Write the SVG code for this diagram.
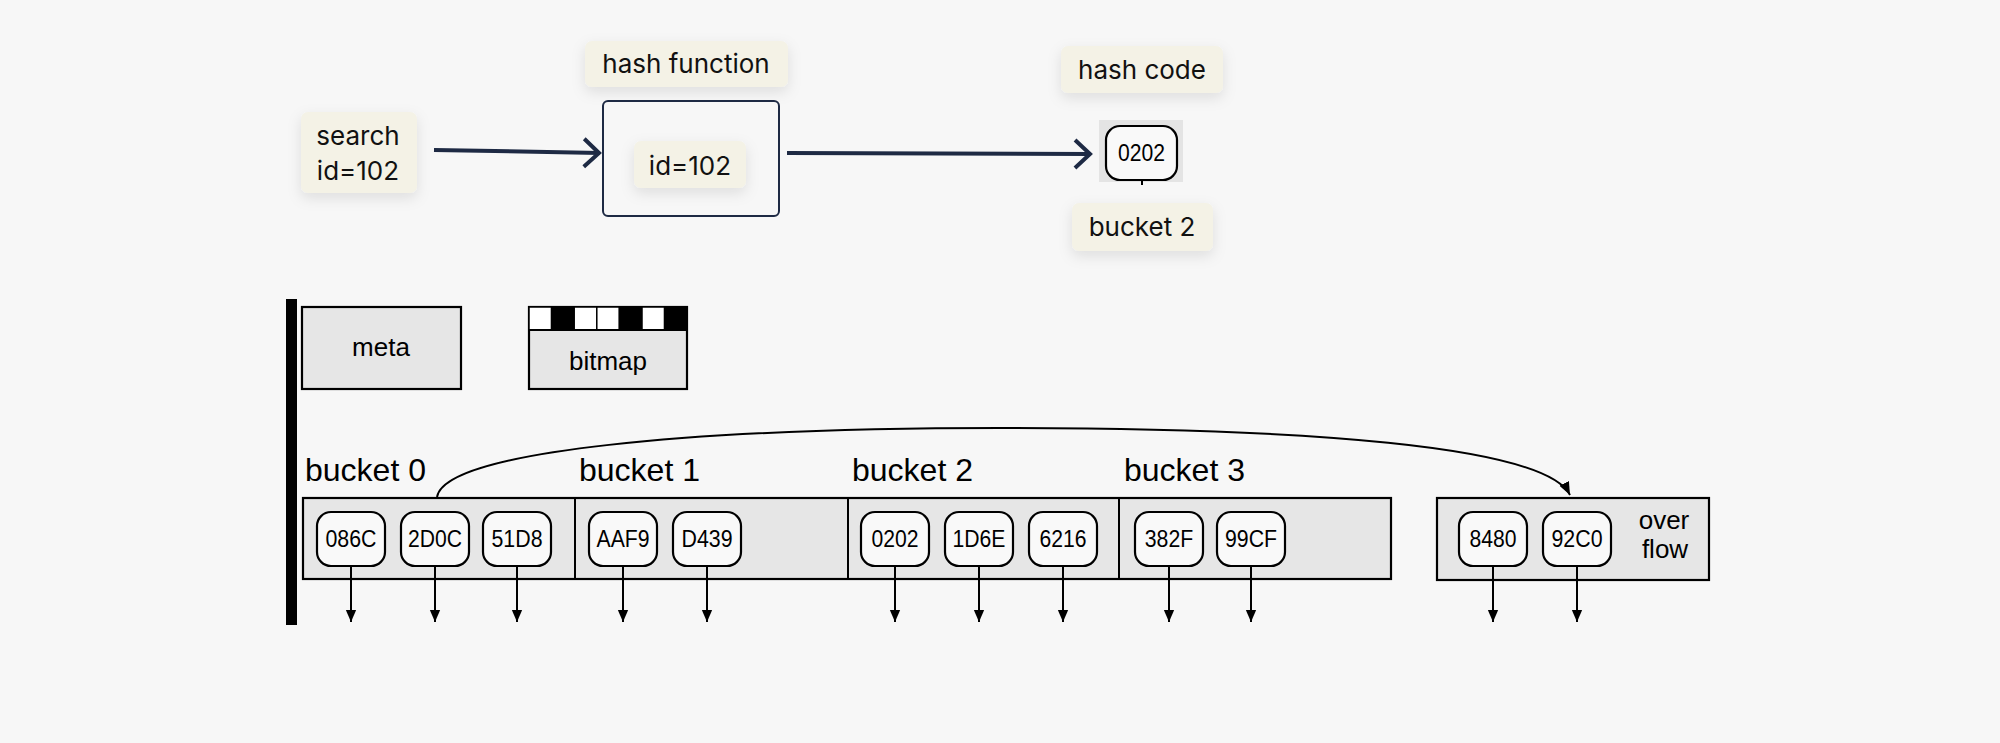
<svg xmlns="http://www.w3.org/2000/svg" width="2000" height="743" viewBox="0 0 2000 743">
<style>
.lbl{fill:#f4f2e6;filter:url(#sh)}
.lt{font-family:Inter,"Noto Sans","Liberation Sans",sans-serif;font-size:26px;fill:#111}
.nav{fill:none;stroke:#1e2a44;stroke-width:4}
.box{fill:#e6e6e6;stroke:#000;stroke-width:2.2}
.nd{fill:#f9f9f9;stroke:#000;stroke-width:2.2}
.nt{font-family:"Liberation Sans",Arial,sans-serif;font-size:23px;fill:#000;text-anchor:middle}
.bt{font-family:"Liberation Sans",Arial,sans-serif;font-size:32px;fill:#000}
.mt{font-family:"Liberation Sans",Arial,sans-serif;font-size:26px;fill:#000;text-anchor:middle}
.ptr{stroke:#000;stroke-width:2;fill:none;marker-end:url(#ah)}
</style>
<defs>
<filter id="sh" x="-30%" y="-30%" width="160%" height="170%">
<feDropShadow dx="0" dy="5" stdDeviation="7" flood-color="#000" flood-opacity="0.10"/>
</filter>
<marker id="ah" markerUnits="userSpaceOnUse" markerWidth="12" markerHeight="14" viewBox="0 0 14 12" refX="14" refY="6" orient="auto">
<path d="M0,0 L14,6 L0,12 z" fill="#000"/>
</marker>
<marker id="ah2" markerUnits="userSpaceOnUse" markerWidth="13" markerHeight="16" viewBox="0 0 16 13" refX="16" refY="6.5" orient="auto">
<path d="M0,0 L16,6.5 L0,13 z" fill="#000"/>
</marker>
<marker id="chev" markerUnits="userSpaceOnUse" markerWidth="24" markerHeight="34" viewBox="0 0 24 34" refX="20" refY="17" orient="auto">
<path d="M4,3 L19,17 L4,31" fill="none" stroke="#1e2a44" stroke-width="4"/>
</marker>
</defs>
<rect width="2000" height="743" fill="#f7f7f7"/>

<g id="search">
<rect class="lbl" x="301" y="112" width="116" height="81" rx="7"/>
<text class="lt" x="358" y="145" text-anchor="middle">search</text>
<text class="lt" x="358" y="180" text-anchor="middle">id=102</text>
</g>

<g id="hash-function">
<rect class="lbl" x="585" y="41" width="203" height="46" rx="7"/>
<text class="lt" x="686" y="73" text-anchor="middle">hash function</text>
<rect x="603" y="101" width="176" height="115" rx="5" fill="#f7f7f7" stroke="#1e2a44" stroke-width="2"/>
<rect class="lbl" x="634" y="141" width="112" height="47" rx="7"/>
<text class="lt" x="690" y="175" text-anchor="middle">id=102</text>
</g>

<g id="hash-code">
<rect class="lbl" x="1061" y="46" width="162" height="47" rx="7"/>
<text class="lt" x="1142" y="79" text-anchor="middle">hash code</text>
<rect x="1099" y="120" width="84" height="62" fill="#e4e4e4"/>
<rect class="nd" x="1106" y="126" width="71" height="54" rx="14"/>
<text class="nt" x="1141.5" y="161" textLength="47" lengthAdjust="spacingAndGlyphs">0202</text>
<line x1="1142" y1="180" x2="1142" y2="185" stroke="#000" stroke-width="2"/>
<rect class="lbl" x="1072" y="203" width="141" height="48" rx="7"/>
<text class="lt" x="1142" y="236" text-anchor="middle">bucket 2</text>
</g>

<g id="meta">
<rect x="286" y="299" width="11" height="326" fill="#000"/>
<rect class="box" x="302" y="307" width="159" height="82"/>
<text class="mt" x="381" y="356">meta</text>
</g>

<g id="bitmap">
<rect class="box" x="529" y="307" width="158" height="82"/>
<g stroke="#000" stroke-width="1.5">
<rect x="529" y="307" width="22.6" height="23" fill="#fff"/>
<rect x="551.6" y="307" width="22.6" height="23" fill="#000"/>
<rect x="574.2" y="307" width="22.6" height="23" fill="#fff"/>
<rect x="596.8" y="307" width="22.6" height="23" fill="#fff"/>
<rect x="619.4" y="307" width="22.6" height="23" fill="#000"/>
<rect x="642" y="307" width="22.6" height="23" fill="#fff"/>
<rect x="664.6" y="307" width="22.4" height="23" fill="#000"/>
</g>
<line x1="529" y1="330" x2="687" y2="330" stroke="#000" stroke-width="2"/>
<text class="mt" x="608" y="370">bitmap</text>
</g>

<g id="buckets">
<rect class="box" x="303" y="498" width="1088" height="81"/>
<line x1="575" y1="498" x2="575" y2="579" stroke="#000" stroke-width="2"/>
<line x1="848" y1="498" x2="848" y2="579" stroke="#000" stroke-width="2"/>
<line x1="1119" y1="498" x2="1119" y2="579" stroke="#000" stroke-width="2"/>
<text class="bt" x="305" y="481">bucket 0</text>
<text class="bt" x="579" y="481">bucket 1</text>
<text class="bt" x="852" y="481">bucket 2</text>
<text class="bt" x="1124" y="481">bucket 3</text>
</g>

<g id="bucket0-nodes">
<rect class="nd" x="317" y="512" width="68" height="54" rx="14"/><text class="nt" x="351" y="547" textLength="51" lengthAdjust="spacingAndGlyphs">086C</text>
<rect class="nd" x="401" y="512" width="68" height="54" rx="14"/><text class="nt" x="435" y="547" textLength="54" lengthAdjust="spacingAndGlyphs">2D0C</text>
<rect class="nd" x="483" y="512" width="68" height="54" rx="14"/><text class="nt" x="517" y="547" textLength="51" lengthAdjust="spacingAndGlyphs">51D8</text>
</g>
<g id="bucket1-nodes">
<rect class="nd" x="589" y="512" width="68" height="54" rx="14"/><text class="nt" x="623" y="547" textLength="53" lengthAdjust="spacingAndGlyphs">AAF9</text>
<rect class="nd" x="673" y="512" width="68" height="54" rx="14"/><text class="nt" x="707" y="547" textLength="51" lengthAdjust="spacingAndGlyphs">D439</text>
</g>
<g id="bucket2-nodes">
<rect class="nd" x="861" y="512" width="68" height="54" rx="14"/><text class="nt" x="895" y="547" textLength="47" lengthAdjust="spacingAndGlyphs">0202</text>
<rect class="nd" x="945" y="512" width="68" height="54" rx="14"/><text class="nt" x="979" y="547" textLength="53" lengthAdjust="spacingAndGlyphs">1D6E</text>
<rect class="nd" x="1029" y="512" width="68" height="54" rx="14"/><text class="nt" x="1063" y="547" textLength="47" lengthAdjust="spacingAndGlyphs">6216</text>
</g>
<g id="bucket3-nodes">
<rect class="nd" x="1135" y="512" width="68" height="54" rx="14"/><text class="nt" x="1169" y="547" textLength="48.5" lengthAdjust="spacingAndGlyphs">382F</text>
<rect class="nd" x="1217" y="512" width="68" height="54" rx="14"/><text class="nt" x="1251" y="547" textLength="52" lengthAdjust="spacingAndGlyphs">99CF</text>
</g>
<g id="overflow">
<rect class="box" x="1437" y="498" width="272" height="82"/>
<rect class="nd" x="1459" y="512" width="68" height="54" rx="14"/><text class="nt" x="1493" y="547" textLength="47" lengthAdjust="spacingAndGlyphs">8480</text>
<rect class="nd" x="1543" y="512" width="68" height="54" rx="14"/><text class="nt" x="1577" y="547" textLength="51" lengthAdjust="spacingAndGlyphs">92C0</text>
<text class="mt" x="1664" y="529">over</text>
<text class="mt" x="1665" y="558">flow</text>
</g>

<g id="connectors">
<path class="nav" d="M434,150 L600,153" marker-end="url(#chev)"/>
<path class="nav" d="M787,153 L1091,154" marker-end="url(#chev)"/>
<path d="M437,497 C445,450 700,428 1000,428 C1300,428 1545,445 1570,495" stroke="#000" stroke-width="2" fill="none" marker-end="url(#ah2)"/>
<line class="ptr" x1="351" y1="566" x2="351" y2="622"/>
<line class="ptr" x1="435" y1="566" x2="435" y2="622"/>
<line class="ptr" x1="517" y1="566" x2="517" y2="622"/>
<line class="ptr" x1="623" y1="566" x2="623" y2="622"/>
<line class="ptr" x1="707" y1="566" x2="707" y2="622"/>
<line class="ptr" x1="895" y1="566" x2="895" y2="622"/>
<line class="ptr" x1="979" y1="566" x2="979" y2="622"/>
<line class="ptr" x1="1063" y1="566" x2="1063" y2="622"/>
<line class="ptr" x1="1169" y1="566" x2="1169" y2="622"/>
<line class="ptr" x1="1251" y1="566" x2="1251" y2="622"/>
<line class="ptr" x1="1493" y1="566" x2="1493" y2="622"/>
<line class="ptr" x1="1577" y1="566" x2="1577" y2="622"/>
</g>
</svg>
